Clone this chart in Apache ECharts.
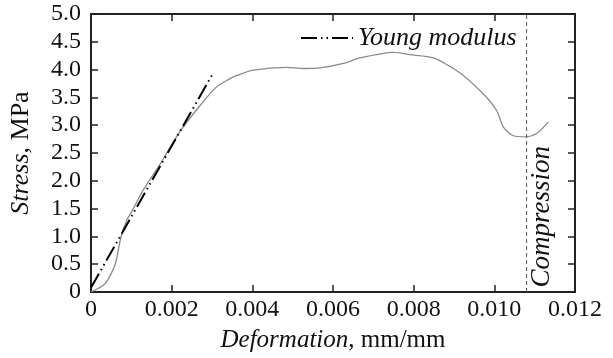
<!DOCTYPE html>
<html><head><meta charset="utf-8">
<script src="https://cdn.jsdelivr.net/npm/echarts@6/dist/echarts.min.js"></script>
<style>html,body{margin:0;padding:0;background:#fff}#c{width:613px;height:358px}</style>
</head><body><div id="c"></div>
<script>
const stressCurve = [
  [0,0],[0.00035,0.15],[0.0006,0.50],[0.00074,0.98],[0.00088,1.28],[0.00105,1.50],[0.0013,1.84],
  [0.00167,2.25],[0.0022,2.88],[0.0027,3.35],[0.0031,3.68],[0.0034,3.82],[0.0036,3.89],[0.00402,3.99],
  [0.00485,4.04],[0.00526,4.02],[0.00568,4.03],[0.00626,4.11],[0.00667,4.21],[0.0075,4.31],
  [0.0079,4.27],[0.00849,4.21],[0.00915,3.94],[0.00973,3.56],[0.01006,3.26],[0.01022,2.97],
  [0.01047,2.81],[0.0108,2.79],[0.01105,2.85],[0.01134,3.06]
];
const youngLine = [[0,0.08],[0.003,3.9]];
const compressionLine = [[0.0108,0],[0.0108,5]];
const xTicks = [0,0.002,0.004,0.006,0.008,0.010,0.012];
const yTicks = [0,0.5,1,1.5,2,2.5,3,3.5,4,4.5,5];

const font = 'Liberation Serif';
const axisCol = '#222';
const chart = echarts.init(document.getElementById('c'));
function baseAxis(){ return {
  show:true,
  axisLine:{show:true,onZero:false,lineStyle:{color:axisCol,width:2}},
  axisTick:{show:true,inside:true,length:7,lineStyle:{color:axisCol,width:1.5}},
  splitLine:{show:false}
};}
chart.setOption({
  animation:false,
  grid:{left:91,top:14,right:38,bottom:63,show:true,borderColor:axisCol,borderWidth:2,backgroundColor:'transparent'},
  legend:{
    data:[{name:'Young modulus',itemStyle:{opacity:0}}], left:295, top:20, itemWidth:52, itemHeight:12,
    textStyle:{fontFamily:font,fontStyle:'italic',fontSize:26,color:'#111'}
  },
  xAxis:[{
    ...baseAxis(), type:'value', gridIndex:0, min:0, max:0.012, interval:0.002, position:'bottom',
    axisLabel:{fontFamily:font,fontSize:24,color:'#111',margin:6,
      formatter:v=>v===0?'0':v.toFixed(3)},
    name:'{i|Deformation}, mm/mm', nameLocation:'middle', nameGap:36,
    nameTextStyle:{fontFamily:font,fontSize:25,color:'#111',
      rich:{i:{fontFamily:font,fontStyle:'italic',fontSize:25,color:'#111'}}}
  },{
    ...baseAxis(), type:'value', gridIndex:0, min:0, max:0.012, interval:0.002, position:'top',
    axisLabel:{show:false}
  }],
  yAxis:[{
    ...baseAxis(), type:'value', gridIndex:0, min:0, max:5, interval:0.5, position:'left',
    axisLabel:{fontFamily:font,fontSize:24,color:'#111',margin:10,
      formatter:v=>v===0?'0':v.toFixed(1)},
    name:'{i|Stress}, MPa', nameLocation:'middle', nameGap:57, nameRotate:90,
    nameTextStyle:{fontFamily:font,fontSize:26,color:'#111',
      rich:{i:{fontFamily:font,fontStyle:'italic',fontSize:26,color:'#111'}}}
  },{
    ...baseAxis(), type:'value', gridIndex:0, min:0, max:5, interval:0.5, position:'right',
    axisLabel:{show:false}
  }],
  series:[
    {type:'line', name:'curve', data:stressCurve, smooth:0.25, showSymbol:false, symbol:'none',
     lineStyle:{color:'#8a8a8a',width:1.3}, itemStyle:{color:'#8a8a8a'}},
    {type:'line', name:'compression', data:compressionLine, showSymbol:false, symbol:'none',
     lineStyle:{color:'#555',type:[4,3],width:1}},
    {type:'line', name:'Young modulus', data:youngLine, showSymbol:false, symbol:'none',
     lineStyle:{color:'#000',width:2,type:[16,4,1.5,4,1.5,4]}, itemStyle:{color:'#000'}},
    {type:'line', name:'frame', xAxisIndex:1, yAxisIndex:1, data:[[0,0]], showSymbol:false, symbol:'none',
     lineStyle:{opacity:0}}
  ],
  graphic:[{
    type:'text', left:528, top:146, rotation:Math.PI/2,
    style:{text:'Compression',fontFamily:font,fontStyle:'italic',fontSize:27,fill:'#111'}
  }]
});
</script></body></html>
